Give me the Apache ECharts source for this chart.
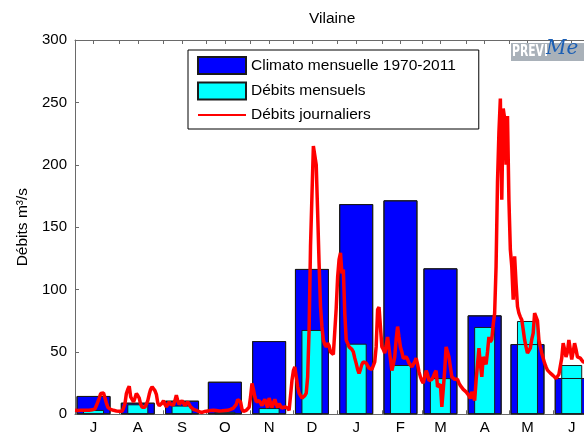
<!DOCTYPE html>
<html>
<head>
<meta charset="utf-8">
<script src="https://cdn.jsdelivr.net/npm/echarts@6/dist/echarts.min.js"></script>
<style>
  html, body { margin: 0; padding: 0; background: #fff; }
  #chart { width: 584px; height: 437px; }
</style>
</head>
<body>
<div id="chart"></div>
<script>
  // mois de juillet a juin, jours comptes depuis le 1er juillet
  const months = ['J', 'A', 'S', 'O', 'N', 'D', 'J', 'F', 'M', 'A', 'M', 'J']
  const monthStart = [0, 31, 62, 92, 123, 153, 184, 215, 243, 274, 304, 335]
  const barDays = [13, 44, 75, 105, 136, 166, 197, 228, 256, 287, 317, 348]

  const climato = [14.7, 9.3, 10.9, 26.1, 58.7, 116.5, 168.5, 171.5, 117, 79.3, 56.3, 29.1]
  const mensuels = [3.5, 8, 7, 2, 5, 67.6, 56.6, 39.5, 29, 70, 74.8, 39.5]

  const journaliers = [
    3.2, 3.0, 3.1, 3.3, 3.2, 3.4, 3.3, 3.1, 3.2, 3.2,
    3.2, 3.4, 3.6, 4.0, 4.4, 7, 10, 13, 16.7, 18,
    17, 13, 9, 5.6, 4.5, 4, 3.5, 3.2, 3, 2.7,
    2.6, 2.5, 2.5, 2.5, 5, 8.5, 16.7, 20, 22.5, 14,
    12, 10, 13, 16.7, 15, 13, 8, 5.6, 5.6, 5.6,
    8, 11, 16, 20, 22, 21, 19, 16, 9, 7,
    6, 9, 11, 8, 6, 8, 10, 8, 7.5, 7.5,
    11, 15.3, 11, 8, 9, 11, 9, 7, 8, 10,
    8, 6, 5, 4, 3.5, 3.2, 2.5, 2, 1.5, 1.5,
    2, 2.3, 2.5, 2.7, 2.8, 3, 3, 3.2, 3.2, 3,
    2.8, 2.7, 2.7, 2.8, 3, 3, 3.2, 3.2, 3.5, 4,
    4.5, 5, 5.6, 8, 11.8, 11, 10, 4, 2.3, 2.8,
    3.2, 4, 5.6, 14, 24.7, 20, 14, 10, 8.5, 11,
    9, 7, 10, 12, 8, 5.5, 13, 9, 5.5, 9,
    12, 8, 5.5, 8.5, 7, 5, 4.5, 6, 7, 5,
    3.2, 15, 27, 35, 38, 30, 22, 17, 15, 13,
    13, 15, 17, 30, 67.6, 134.7, 175, 215, 214, 200,
    161.6, 121, 86.4, 70, 59.6, 56, 54, 57, 55, 50,
    49, 48, 49, 85, 110, 124, 129.4, 113, 116, 81,
    59.6, 57, 54, 53, 52, 50, 45, 40.8, 36, 32.8,
    36, 40, 42, 41.5, 41, 39, 37, 36.8, 36, 35,
    42, 54, 84, 86, 86, 54, 52, 49, 55, 62,
    53, 44, 35, 40, 46, 60, 70.3, 62, 54, 50,
    44.8, 45, 46, 44, 41, 40, 38, 38, 42, 45,
    40, 34, 30, 27, 25, 30, 35, 32, 27, 26,
    28, 30, 33, 35, 22, 22, 24, 6, 20, 35,
    54, 50, 46, 38, 30, 29, 28, 28, 28, 25,
    23, 22, 20, 19, 18, 16.7, 15, 12.6, 18, 15,
    11, 27, 40, 53, 40, 30, 46, 45, 40, 50,
    62, 58, 60, 72, 81, 118.6, 186, 226, 253, 172,
    245, 237, 200, 239, 172, 132, 118.6, 91.8, 126.7, 105,
    86.4, 81, 78, 75.7, 68, 59.6, 54, 49, 51, 53,
    60, 65, 81, 78, 75, 59.6, 54, 49, 45, 41,
    38, 35.4, 34, 33, 32, 31, 30, 28.7, 30, 32,
    32, 45, 57, 52, 46, 50, 59.6, 52, 44, 50,
    57, 52, 46, 44.8, 45, 44, 42, 41, 42, 40,
    41, 40, 42, 40, 39
  ]

  const font = 'Liberation Sans, Arial, Helvetica, sans-serif'
  const axisColor = '#6a6a6a'
  const edgeColor = '#1a1a1a'
  const topTicks = monthStart.concat(barDays).sort((a, b) => a - b)
  // l'axe continue hors de l'image : seule la partie visible (jusqu'a ~356 j) est montree
  const dayMax = 356.6

  const hiddenX = { type: 'value', min: 0, max: dayMax, show: false }

  const chart = echarts.init(document.getElementById('chart'))
  chart.setOption({
    animation: false,
    title: {
      text: 'Vilaine',
      left: 309,
      top: 11,
      padding: 0,
      textStyle: { fontFamily: font, fontSize: 15.5, fontWeight: 'normal', color: '#000' }
    },
    legend: {
      orient: 'vertical',
      left: 188,
      top: 50,
      itemWidth: 48,
      itemHeight: 17,
      itemGap: 6.5,
      padding: [6, 23, 6, 9],
      borderColor: '#000',
      borderWidth: 1,
      backgroundColor: '#fff',
      selectedMode: false,
      textStyle: { fontFamily: font, fontSize: 15.5, color: '#000' },
      data: [
        { name: 'Climato mensuelle 1970-2011', icon: 'rect' },
        { name: 'Débits mensuels', icon: 'rect' },
        { name: 'Débits journaliers', itemStyle: { opacity: 0 } }
      ]
    },
    grid: { left: 75, top: 40, right: 0, height: 374.3 },
    xAxis: [
      {
        type: 'value', min: 0, max: dayMax, position: 'bottom',
        axisLine: { show: true, lineStyle: { color: axisColor } },
        axisTick: { show: true, inside: true, length: 4, customValues: monthStart, lineStyle: { color: axisColor } },
        axisLabel: {
          customValues: barDays,
          formatter: (v) => months[barDays.indexOf(v)],
          fontFamily: font, fontSize: 15, color: '#000', margin: 6
        },
        splitLine: { show: false }
      },
      {
        type: 'value', min: 0, max: dayMax, position: 'top',
        axisLine: { show: true, lineStyle: { color: axisColor } },
        axisTick: { show: true, inside: true, length: 4, customValues: topTicks, lineStyle: { color: axisColor } },
        axisLabel: { show: false },
        splitLine: { show: false }
      },
      hiddenX,
      hiddenX
    ],
    yAxis: {
      type: 'value', min: 0, max: 300, interval: 50,
      axisLine: { show: true, lineStyle: { color: axisColor } },
      axisTick: { show: true, inside: true, length: 4, lineStyle: { color: axisColor } },
      axisLabel: { fontFamily: font, fontSize: 15, color: '#000', margin: 8 },
      splitLine: { show: false },
      name: 'Débits m³/s',
      nameLocation: 'middle',
      nameGap: 33,
      nameTextStyle: { fontFamily: font, fontSize: 15.5, color: '#000' }
    },
    series: [
      {
        name: 'Climato mensuelle 1970-2011',
        type: 'bar',
        xAxisIndex: 0,
        barWidth: 34,
        itemStyle: { color: '#0000ff', borderColor: edgeColor, borderWidth: 1 },
        data: barDays.map((d, i) => [d, climato[i]]),
        z: 2
      },
      {
        name: 'Débits mensuels',
        type: 'bar',
        xAxisIndex: 2,
        barWidth: 21,
        itemStyle: { color: '#00ffff', borderColor: edgeColor, borderWidth: 1 },
        data: barDays.map((d, i) => [d, mensuels[i]]),
        z: 3
      },
      {
        // contour des barres climato redessine par-dessus
        name: 'climato-contour',
        type: 'bar',
        xAxisIndex: 3,
        barWidth: 34,
        silent: true,
        itemStyle: { color: 'rgba(0,0,0,0)', borderColor: edgeColor, borderWidth: 1 },
        data: barDays.map((d, i) => [d, climato[i]]),
        z: 4
      },
      {
        name: 'Débits journaliers',
        type: 'line',
        xAxisIndex: 0,
        symbol: 'none',
        itemStyle: { color: '#ff0000' },
        lineStyle: { color: '#ff0000', width: 3.5 },
        data: journaliers.map((v, i) => [i, v]),
        z: 5
      }
    ],
    graphic: [
      {
        type: 'rect',
        x: 511, y: 43,
        shape: { width: 80, height: 18 },
        style: { fill: '#a9b1b9' },
        z: 10
      },
      {
        type: 'text',
        x: 512, y: 45,
        scaleX: 0.8,
        style: { text: 'PREVI', fill: '#fff', font: 'bold 15px "DejaVu Sans Condensed", "DejaVu Sans", sans-serif' },
        z: 11
      },
      {
        type: 'text',
        x: 546, y: 39,
        style: { text: 'Me', fill: '#1c5fb4', font: 'italic 20px "DejaVu Serif", serif' },
        z: 11
      }
    ]
  })
</script>
</body>
</html>
